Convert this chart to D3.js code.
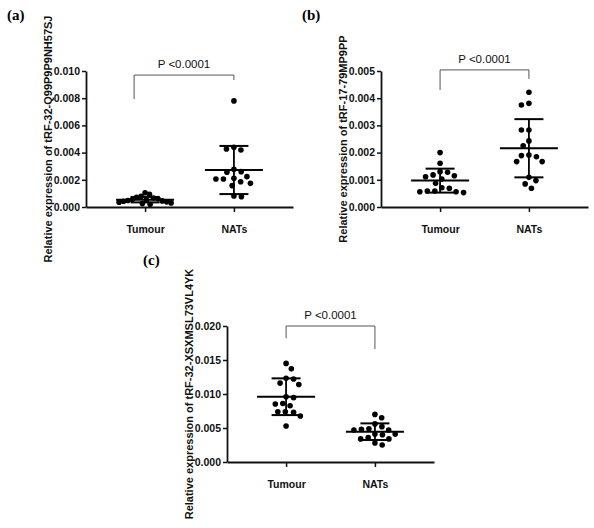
<!DOCTYPE html>
<html><head><meta charset="utf-8">
<script src="https://cdn.jsdelivr.net/npm/d3@7"></script>
<style>
html,body{margin:0;padding:0;background:#fff;}
svg{display:block;}
</style></head>
<body>
<svg id="chart" width="594" height="528"></svg>
<script>
// ---------- data ----------
const categories = ["Tumour", "NATs"];
const panelLabels = ["(a)", "(b)", "(c)"];
const yTitles = [
  "Relative expression of tRF-32-Q99P9P9NH57SJ",
  "Relative expression of tRF-17-79MP9PP",
  "Relative expression of tRF-32-XSXMSL73VL4YK"
];
const pText = "P <0.0001";

const aTumour = [0.00105, 0.00093, 0.00078, 0.00072, 0.00066, 0.00060, 0.00055, 0.00052, 0.00048, 0.00045, 0.00042, 0.00038, 0.00035, 0.00030, 0.00025, 0.00020];
const aNATs   = [0.0078, 0.00439, 0.00426, 0.00419, 0.00277, 0.00260, 0.00255, 0.00223, 0.00211, 0.00206, 0.00206, 0.00186, 0.00174, 0.00157, 0.00081, 0.00076];
const bTumour = [0.00200, 0.00161, 0.00130, 0.00128, 0.00118, 0.00115, 0.00111, 0.00103, 0.00087, 0.00071, 0.00069, 0.00059, 0.00059, 0.00056, 0.00056, 0.00053];
const bNATs   = [0.00422, 0.00381, 0.00375, 0.00283, 0.00283, 0.00243, 0.00225, 0.00191, 0.00189, 0.00185, 0.00167, 0.00167, 0.00109, 0.00097, 0.00085, 0.00069];
const cTumour = [0.0145, 0.0137, 0.0123, 0.0122, 0.0116, 0.0114, 0.0096, 0.00946, 0.0086, 0.00853, 0.00828, 0.0074, 0.0074, 0.0073, 0.00676, 0.0053];
const cNATs   = [0.0070, 0.0065, 0.0056, 0.0052, 0.0049, 0.0048, 0.0047, 0.0047, 0.0041, 0.0041, 0.0040, 0.0036, 0.0034, 0.0034, 0.0028, 0.0025];

// mean and SD as drawn (Tumour, NATs)
const aMean = [0.00054, 0.00272], aSD = [0.00020, 0.00177];
const bMean = [0.00097, 0.00216], bSD = [0.00044, 0.00107];
const cMean = [0.0096, 0.00446],  cSD = [0.0027, 0.00122];

const aTicks = [0, 0.002, 0.004, 0.006, 0.008, 0.010];
const bTicks = [0, 0.001, 0.002, 0.003, 0.004, 0.005];
const cTicks = [0, 0.005, 0.010, 0.015, 0.020];

// bracket: [top, left end, right end] in data units
const aBracket = [0.0097, 0.00794, 0.00934];
const bBracket = [0.00504, 0.00430, 0.00471];
const cBracket = [0.0200, 0.0182, 0.0166];

// ---------- layout ----------
const panels = [
  {label: panelLabels[0], title: yTitles[0], groups: [aTumour, aNATs], mean: aMean, sd: aSD, ticks: aTicks, domain: [0, 0.010], bracket: aBracket,
   axisX: 86, yTop: 71, yBottom: 207, labelX: 7, labelY: 20, bracketLeftShift: -11},
  {label: panelLabels[1], title: yTitles[1], groups: [bTumour, bNATs], mean: bMean, sd: bSD, ticks: bTicks, domain: [0, 0.005], bracket: bBracket,
   axisX: 381, yTop: 71, yBottom: 207, labelX: 302, labelY: 20, bracketLeftShift: 0},
  {label: panelLabels[2], title: yTitles[2], groups: [cTumour, cNATs], mean: cMean, sd: cSD, ticks: cTicks, domain: [0, 0.020], bracket: cBracket,
   axisX: 227, yTop: 326, yBottom: 462, labelX: 143, labelY: 265, bracketLeftShift: 0}
];
const axisLen = 207;
const dotR = 2.8;
const maxHalfWidth = 26;
const FONT = "'Liberation Sans', Arial, Helvetica, sans-serif";

const svg = d3.select("#chart");

function swarm(values, yScale, d) {
  const pts = values.map(v => ({v, y: yScale(v), x: 0}));
  const order = pts.slice().sort((a, b) => b.v - a.v);
  const placed = [];
  order.forEach((p, k) => {
    let best = null;
    for (let step = 0; step < 400 && best === null; step++) {
      const mag = step * 0.25;
      const cands = mag === 0 ? [0] : (k % 2 ? [mag, -mag] : [-mag, mag]);
      for (const c of cands) {
        if (placed.every(q => Math.hypot(q.x - c, q.y - p.y) >= d)) { best = c; break; }
      }
    }
    p.x = best;
    placed.push(p);
  });
  const half = d3.max(pts, q => Math.abs(q.x));
  if (half > maxHalfWidth) pts.forEach(q => q.x *= maxHalfWidth / half);
  return pts;
}

panels.forEach(p => {
  const g = svg.append("g");
  const y = d3.scaleLinear().domain(p.domain).range([p.yBottom, p.yTop]);
  const x = d3.scalePoint().domain(categories).range([p.axisX, p.axisX + axisLen]).padding(0.665);

  // panel label
  svg.append("text").attr("x", p.labelX).attr("y", p.labelY)
    .attr("font-family", "'Liberation Serif', 'Times New Roman', serif")
    .attr("font-weight", "bold").attr("font-size", 15).text(p.label);

  // y axis
  const ya = g.append("g").attr("transform", `translate(${p.axisX},0)`)
    .call(d3.axisLeft(y).tickValues(p.ticks).tickFormat(d3.format(".3f")).tickSize(4).tickSizeOuter(0).tickPadding(2));
  ya.select(".domain").attr("stroke", "#111").attr("stroke-width", 1.8);
  ya.selectAll(".tick line").attr("stroke", "#111").attr("stroke-width", 1.5);
  ya.selectAll(".tick text").attr("font-family", FONT).attr("font-weight", "bold").attr("font-size", 10.5).attr("fill", "#111");

  // x axis
  const xa = g.append("g").attr("transform", `translate(0,${p.yBottom})`)
    .call(d3.axisBottom(x).tickSize(5).tickSizeOuter(0).tickPadding(14));
  xa.select(".domain").attr("stroke", "#111").attr("stroke-width", 1.8);
  xa.selectAll(".tick line").attr("stroke", "#111").attr("stroke-width", 1.5);
  xa.selectAll(".tick text").attr("font-family", FONT).attr("font-weight", "bold").attr("font-size", 10.5).attr("fill", "#111");

  // y title
  g.append("text")
    .attr("transform", `translate(${p.axisX - 34},${(p.yTop + p.yBottom) / 2}) rotate(-90)`)
    .attr("text-anchor", "middle").attr("font-family", FONT).attr("font-weight", "bold").attr("font-size", 11)
    .attr("fill", "#111").text(p.title);

  // points
  p.groups.forEach((vals, gi) => {
    const cx = x(categories[gi]);
    const pts = swarm(vals, y, 7.5);
    g.append("g").selectAll("circle").data(pts).join("circle")
      .attr("cx", d => cx + d.x).attr("cy", d => d.y).attr("r", dotR).attr("fill", "#000");

    // mean & SD
    const m = p.mean[gi], s = p.sd[gi];
    g.append("line").attr("x1", cx - 29).attr("x2", cx + 29).attr("y1", y(m)).attr("y2", y(m))
      .attr("stroke", "#000").attr("stroke-width", 2);
    g.append("line").attr("x1", cx).attr("x2", cx).attr("y1", y(m - s)).attr("y2", y(m + s))
      .attr("stroke", "#000").attr("stroke-width", 1.8);
    [m - s, m + s].forEach(v => {
      g.append("line").attr("x1", cx - 14.5).attr("x2", cx + 14.5).attr("y1", y(v)).attr("y2", y(v))
        .attr("stroke", "#000").attr("stroke-width", 2);
    });
  });

  // significance bracket
  const xl = x(categories[0]) + p.bracketLeftShift, xr = x(categories[1]);
  const [bt, bl, br] = p.bracket;
  g.append("path")
    .attr("d", `M${xl},${y(bl)}V${y(bt)}H${xr}V${y(br)}`)
    .attr("fill", "none").attr("stroke", "#555").attr("stroke-width", 1);
  g.append("text").attr("x", (xl + xr) / 2).attr("y", y(bt) - 7)
    .attr("text-anchor", "middle").attr("font-family", FONT).attr("font-size", 11.5).attr("fill", "#111")
    .text(pText);
});
</script>
</body></html>
